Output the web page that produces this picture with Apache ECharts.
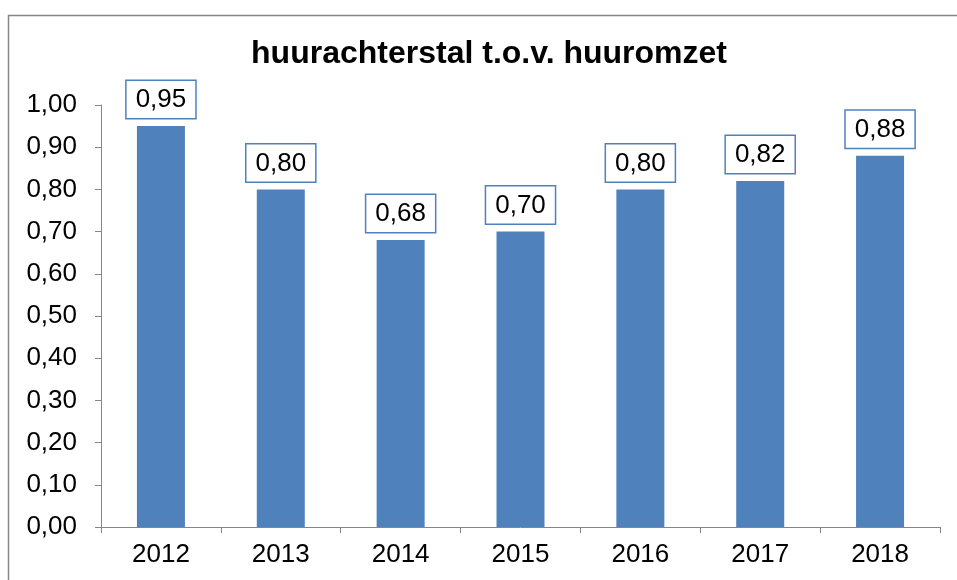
<!DOCTYPE html>
<html>
<head>
<meta charset="utf-8">
<script src="https://cdn.jsdelivr.net/npm/echarts@6/dist/echarts.min.js"></script>
<style>
  html, body { margin: 0; padding: 0; background: #fff; }
  #chart { width: 957px; height: 580px; }
</style>
</head>
<body>
<div id="chart"></div>
<script>
// data
const years = ['2012', '2013', '2014', '2015', '2016', '2017', '2018'];
const ratios = [0.95, 0.80, 0.68, 0.70, 0.80, 0.82, 0.88];

const fmt = v => v.toFixed(2).replace('.', ',');

const chart = echarts.init(document.getElementById('chart'));
const option = {
    backgroundColor: '#fff',
    animation: false,
    textStyle: { fontFamily: 'Liberation Sans, Arial, sans-serif' },
    graphic: [{
        type: 'rect',
        shape: { x: 8.5, y: 15.5, width: 980, height: 600 },
        style: { fill: 'none', stroke: '#868686', lineWidth: 1.5 },
        silent: true
    }],
    title: {
        text: 'huurachterstal t.o.v. huuromzet',
        left: 484,
        textAlign: 'center',
        top: 33,
        textStyle: { fontSize: 32, fontWeight: 'bold', color: '#000' }
    },
    grid: { left: 101, right: 17, top: 105, bottom: 53 },
    xAxis: {
        type: 'category',
        data: years,
        axisLine: { lineStyle: { color: '#868686', width: 1 } },
        axisTick: { show: true, length: 6, lineStyle: { color: '#868686' } },
        axisLabel: { color: '#000', fontSize: 26, margin: 15 }
    },
    yAxis: {
        type: 'value',
        min: 0,
        max: 1,
        interval: 0.1,
        axisLine: { show: true, lineStyle: { color: '#868686', width: 1 } },
        axisTick: { show: true, length: 6, lineStyle: { color: '#868686' } },
        splitLine: { show: false },
        axisLabel: { color: '#000', fontSize: 26, margin: 24, formatter: v => fmt(v) }
    },
    series: [{
        type: 'bar',
        data: ratios,
        barWidth: 48,
        itemStyle: { color: '#4F81BD' },
        label: {
            show: true,
            position: 'top',
            distance: 8,
            formatter: p => fmt(p.value),
            color: '#000',
            fontSize: 26,
            backgroundColor: '#fff',
            borderColor: '#4F81BD',
            borderWidth: 1.5,
            padding: [6, 9, 5, 9]
        }
    }]
};
chart.setOption(option);
window.addEventListener('resize', () => chart.resize());
</script>
</body>
</html>
